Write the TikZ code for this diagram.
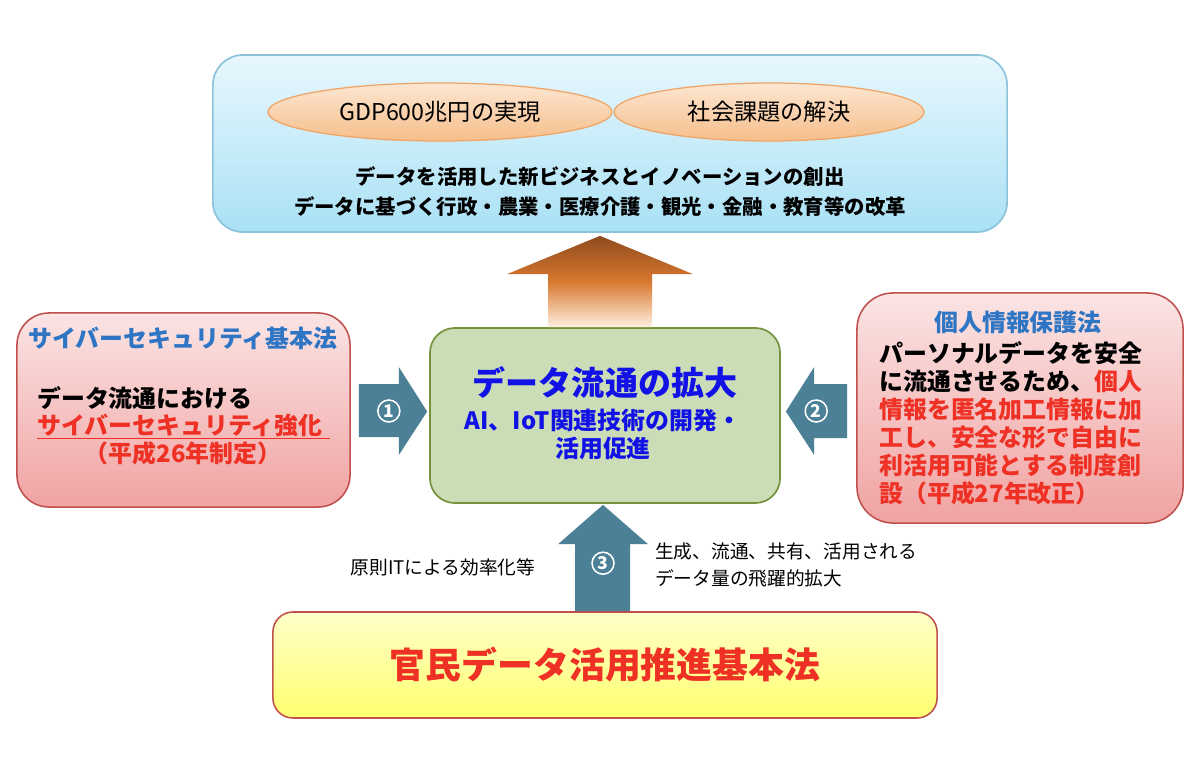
\documentclass[tikz,border=0pt]{standalone}
\usepackage{fontspec}
\setmainfont{Noto Sans CJK JP}
\usetikzlibrary{calc,shapes.geometric}
\definecolor{skyline}{HTML}{8CC3DA}
\definecolor{skytop}{HTML}{E8F7FD}
\definecolor{skybot}{HTML}{A9E1F5}
\definecolor{peachline}{HTML}{EFA567}
\definecolor{peachtop}{HTML}{FCE6D2}
\definecolor{peachbot}{HTML}{F6BE8A}
\definecolor{leafline}{HTML}{76923C}
\definecolor{leaffill}{HTML}{CADDB6}
\definecolor{roseline}{HTML}{C0504D}
\definecolor{rosetop}{HTML}{FBE4E4}
\definecolor{rosebot}{HTML}{F0A3A2}
\definecolor{lemontop}{HTML}{FFFFC8}
\definecolor{lemonbot}{HTML}{FFFF70}
\definecolor{tealarrow}{HTML}{4B8096}
\definecolor{lawred}{HTML}{EE3124}
\definecolor{titleblue}{HTML}{2E75C4}
\definecolor{flowblue}{HTML}{1212E6}
\tikzset{
  goalbox/.style  = {draw=skyline, line width=1.2pt, rounded corners=0.75cm,
                     top color=skytop, bottom color=skybot, inner sep=0pt,
                     minimum width=19.85cm, minimum height=4.425cm},
  aimnode/.style  = {ellipse, draw=peachline, line width=0.9pt, top color=peachtop,
                     bottom color=peachbot, inner sep=0pt, minimum height=1.45cm,
                     font=\fontsize{16.5}{19}\selectfont},
  flowbox/.style  = {draw=leafline, line width=1.2pt, fill=leaffill, rounded corners=0.62cm,
                     inner sep=0pt, minimum width=8.75cm, minimum height=4.375cm},
  rosebox/.style  = {draw=roseline, line width=1.1pt, top color=rosetop, bottom color=rosebot,
                     rounded corners=0.8cm, inner sep=0pt},
  lawbox/.style   = {draw=roseline, line width=1.1pt, top color=lemontop, bottom color=lemonbot,
                     rounded corners=0.5cm, inner sep=0pt, minimum width=16.6cm,
                     minimum height=2.65cm, text=lawred,
                     font=\fontsize{25.5}{30}\selectfont\bfseries},
  fatarrow/.style = {fill=tealarrow},
  numtag/.style   = {circle, draw=white, line width=1.1pt, text=white, minimum size=0.55cm,
                     inner sep=0pt, font=\fontsize{12.5}{14}\selectfont\bfseries},
  boldtxt/.style  = {inner sep=0pt, font=\fontsize{17}{19.9}\selectfont\bfseries},
  goaltxt/.style  = {inner sep=0pt, font=\fontsize{14.5}{17}\selectfont\bfseries},
  notetxt/.style  = {inner sep=0pt, font=\fontsize{13.3}{19}\selectfont},
}

\begin{document}
\begin{tikzpicture}[x=0.025cm,y=-0.025cm]
\useasboundingbox (0,0) rectangle (1200,760);
\fill[white] (0,0) rectangle (1200,760);

\node[goalbox] (goal) at (610,143.5) {};
\node[aimnode,minimum width=8.6cm] (gdp) at (440,112) {GDP600兆円の実現};
\node[aimnode,minimum width=7.75cm] (issue) at (769,112) {社会課題の解決};
\node[goaltxt] (goal1) at (600,177) {データを活用した新ビジネスとイノベーションの創出};
\node[goaltxt] (goal2) at (600,207) {データに基づく行政・農業・医療介護・観光・金融・教育等の改革};

\node[flowbox] (flow) at (605,415.5) {};
\node[boldtxt,text=flowblue,font=\fontsize{23.5}{28}\selectfont\bfseries] (flowtitle) at (605,383) {データ流通の拡大};
\node[boldtxt,text=flowblue,align=center] (flowsub) at (603,434) {AI、IoT関連技術の開発・\\活用促進};

\shade[top color={rgb,255:red,142;green,75;blue,31}, bottom color={rgb,255:red,255;green,240;blue,224},
       middle color={rgb,255:red,216;green,120;blue,46}]
  ($(flow.north)+(-57,0)$) -- ++(0,-53) -- ++(-41,0) -- ($(goal.south)+(-10,3)$)
  -- ($(flow.north)+(88,-53)$) -- ++(-41,0) -- ++(0,53) -- cycle;

\node[rosebox,minimum width=8.325cm,minimum height=4.85cm] (cyber) at (183.5,410) {};
\node[boldtxt,text=titleblue] (cybertitle) at (183,338) {サイバーセキュリティ基本法};
\node[boldtxt,anchor=west] (cyber1) at (37,398) {データ流通における};
\node[boldtxt,anchor=west,text=lawred] (cyber2) at (37,425) {サイバーセキュリティ強化};
\draw[lawred,line width=1pt] ($(cyber2.south west)+(0,2)$) -- ($(cyber2.south east)+(7,2)$);
\node[boldtxt,text=lawred] (cyber3) at (183,453) {（平成26年制定）};

\node[rosebox,minimum width=8.15cm,minimum height=5.75cm,rounded corners=0.9cm] (privacy) at (1020,408) {};
\node[boldtxt,text=titleblue] (privacytitle) at (1018,322) {個人情報保護法};
\node[boldtxt,anchor=west,align=left] (privacybody) at (879,423)
  {パーソナルデータを安全\\に流通させるため、\textcolor{lawred}{個人}\\\textcolor{lawred}{情報を匿名加工情報に加}\\\textcolor{lawred}{工し、安全な形で自由に}\\\textcolor{lawred}{利活用可能とする制度創}\\\textcolor{lawred}{設（平成27年改正）}};

\node[lawbox] (law) at (605,665) {官民データ活用推進基本法};

\fill[fatarrow] ($(cyber.east)+(8,-26)$) -- ++(40,0) -- ++(0,-17) -- ($(flow.west)+(-2,-4)$)
  -- ($(cyber.east)+(48,45)$) -- ++(0,-18) -- ++(-40,0) -- cycle;
\node[numtag] (n1) at ($(cyber.east)+(38,1)$) {1};

\fill[fatarrow] ($(privacy.west)+(-9,-24)$) -- ++(-33,0) -- ++(0,-17) -- ($(flow.east)+(5,-4)$)
  -- ($(privacy.west)+(-42,47)$) -- ++(0,-17) -- ++(33,0) -- cycle;
\node[numtag] (n2) at ($(privacy.west)+(-40,3)$) {2};

\fill[fatarrow] ($(law.north)+(-30,0)$) -- ++(0,-67) -- ++(-17,0) -- ($(flow.south)+(-2,1)$)
  -- ($(law.north)+(43,-67)$) -- ++(-18,0) -- ++(0,67) -- cycle;
\node[numtag] (n3) at ($(law.north)+(-2,-48)$) {3};

\node[notetxt] (noteleft) at (443,567) {原則ITによる効率化等};
\node[notetxt,anchor=west,align=left] (noteright) at (655,565) {生成、流通、共有、活用される\\データ量の飛躍的拡大};
\end{tikzpicture}
\end{document}
